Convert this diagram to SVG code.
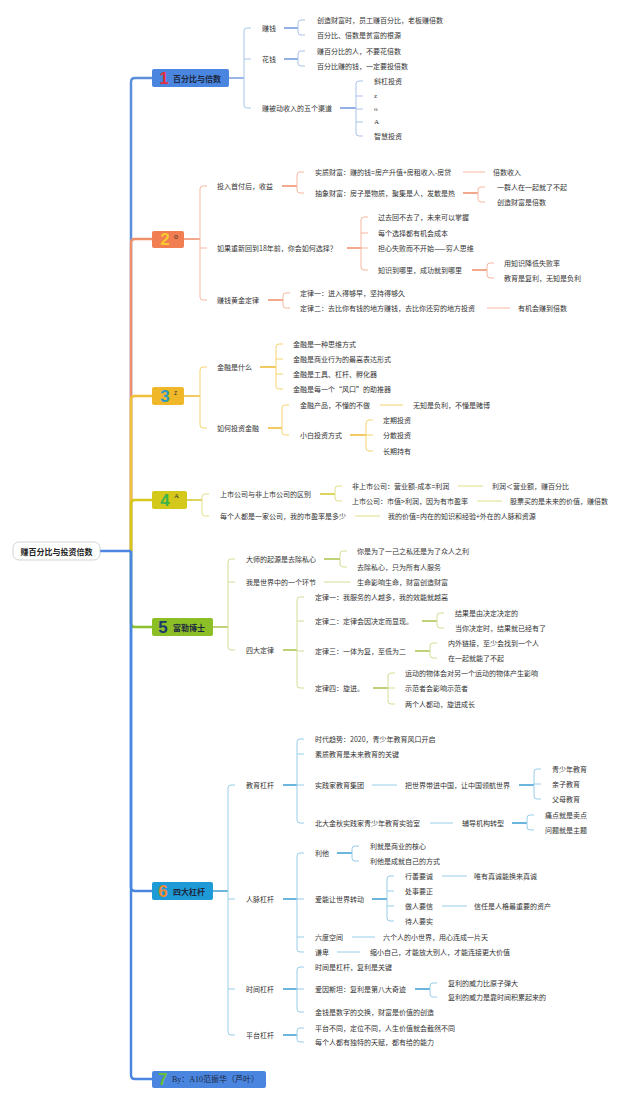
<svg xmlns="http://www.w3.org/2000/svg" width="640" height="1101" viewBox="0 0 640 1101">
<style>
text{font-family:"Noto Sans CJK SC","Liberation Sans",sans-serif;dominant-baseline:central}
.t{font-size:7px;fill:#333}
.s{font-family:"Liberation Serif","Noto Sans CJK SC",serif}
.lb{font-size:8px;font-weight:bold;fill:#1d2940}
.num{font-family:"Liberation Sans","Noto Sans CJK SC",sans-serif;font-size:17px;font-weight:bold;text-anchor:middle}
.sup{font-size:6.5px;fill:#333}
.tr{fill:none;stroke-width:2.5;stroke-linejoin:round}
.c{fill:none;stroke-width:1}
.m{stroke-width:1.4}
.c1{stroke:#a9c2ea}.c1.m{stroke:#6f97d8}
.c2{stroke:#f6b7a0}.c2.m{stroke:#ef8d6a}
.c3{stroke:#f6d470}.c3.m{stroke:#f0b830}
.c4{stroke:#e2de88}.c4.m{stroke:#d0c82a}
.c5{stroke:#d2de96}.c5.m{stroke:#a8c44a}
.c6{stroke:#96cde8}.c6.m{stroke:#3a9fd4}
</style>
<rect width="640" height="1101" fill="#ffffff"/>
<g id="connectors">
<g id="trunk">
<path class="tr" stroke="#5b8fd9" d="M131,551 V82 Q131,78 135,78 H152"/>
<path class="tr" stroke="#f0906a" d="M131,551 V243 Q131,239 135,239 H152"/>
<path class="tr" stroke="#f0c038" d="M131,551 V400 Q131,396 135,396 H152"/>
<path class="tr" stroke="#d6c81a" d="M131,551 V504 Q131,500 135,500 H152"/>
<path class="tr" stroke="#8cc030" d="M131,551 V623 Q131,627 135,627 H152"/>
<path class="tr" stroke="#4a86e0" d="M131,551 V887 Q131,891 135,891 H152"/>
<path class="tr" stroke="#4a86e0" d="M131,551 V1075 Q131,1079 135,1079 H152"/>
<path class="tr" stroke="#4a86e0" d="M100,551 H131"/>
</g>
<g id="conn1">
<path class="c c1 m" d="M229,78 H244"/>
<path class="c c1" d="M251,28 H247 Q244,28 244,31 V105 Q244,108 247,108 H251 M244,59 H251"/>
<path class="c c1 m" d="M284,28 H298 M284,59 H298 M340,108 H356"/>
<path class="c c1" d="M305,20 H301 Q298,20 298,23 V32 Q298,35 301,35 H305"/>
<path class="c c1" d="M305,51 H301 Q298,51 298,54 V63 Q298,66 301,66 H305"/>
<path class="c c1" d="M363,81 H359 Q356,81 356,84 V133 Q356,136 359,136 H363 M356,96 H363 M356,109 H363 M356,122 H363"/>
</g>
<g id="conn2">
<path class="c c2 m" d="M184,239 H200 M282,186 H297 M463,193 H478 M347,248 H361 M472,270 H487 M268,300 H283"/>
<path class="c c2" d="M207,186 H203 Q200,186 200,189 V297 Q200,300 203,300 H207 M200,248 H207"/>
<path class="c c2" d="M304,172 H300 Q297,172 297,175 V190 Q297,193 300,193 H304"/>
<path class="c c2" d="M463,172 H485 M487,308 H510"/>
<path class="c c2" d="M485,187 H481 Q478,187 478,190 V199 Q478,202 481,202 H485"/>
<path class="c c2" d="M368,217 H364 Q361,217 361,220 V267 Q361,270 364,270 H368 M361,233 H368 M361,248 H368"/>
<path class="c c2" d="M494,263 H490 Q487,263 487,266 V275 Q487,278 490,278 H494"/>
<path class="c c2" d="M290,293 H286 Q283,293 283,296 V305 Q283,308 286,308 H290"/>
</g>
<g id="conn3">
<path class="c c3 m" d="M184,396 H200 M260,367 H276 M268,428 H282 M350,435 H366"/>
<path class="c c3" d="M207,367 H203 Q200,367 200,370 V425 Q200,428 203,428 H207"/>
<path class="c c3" d="M283,344 H279 Q276,344 276,347 V386 Q276,389 279,389 H283 M276,359 H283 M276,374 H283"/>
<path class="c c3" d="M289,405 H285 Q282,405 282,408 V432 Q282,435 285,435 H289"/>
<path class="c c3" d="M380,405 H403"/>
<path class="c c3" d="M373,420 H369 Q366,420 366,423 V448 Q366,451 369,451 H373 M366,435 H373"/>
</g>
<g id="conn4">
<path class="c c4 m" d="M187,500 H202 M320,494 H335"/>
<path class="c c4" d="M209,494 H205 Q202,494 202,497 V513 Q202,516 205,516 H209"/>
<path class="c c4" d="M342,486 H338 Q335,486 335,489 V498 Q335,501 338,501 H342"/>
<path class="c c4" d="M458,486 H483 M477,501 H502 M355,516 H380"/>
</g>
<g id="conn5">
<path class="c c5 m" d="M213,627 H228 M324,559 H340 M283,650 H297 M422,621 H437 M415,651 H430 M373,688 H388"/>
<path class="c c5" d="M235,559 H231 Q228,559 228,562 V647 Q228,650 231,650 H235 M228,582 H235"/>
<path class="c c5" d="M347,551 H343 Q340,551 340,554 V564 Q340,567 343,567 H347"/>
<path class="c c5" d="M324,582 H350"/>
<path class="c c5" d="M304,597 H300 Q297,597 297,600 V685 Q297,688 300,688 H304 M297,621 H304 M297,651 H304"/>
<path class="c c5" d="M444,613 H440 Q437,613 437,616 V625 Q437,628 440,628 H444"/>
<path class="c c5" d="M437,643 H433 Q430,643 430,646 V655 Q430,658 433,658 H437"/>
<path class="c c5" d="M395,673 H391 Q388,673 388,676 V701 Q388,704 391,704 H395 M388,688 H395"/>
</g>
<g id="conn6">
<path class="c c6 m" d="M213,891 H228 M283,785 H297 M519,785 H534 M512,823 H527 M283,899 H297 M337,853 H352 M372,899 H387 M283,989 H297 M415,989 H430 M283,1035 H297"/>
<path class="c c6" d="M235,785 H231 Q228,785 228,788 V1032 Q228,1035 231,1035 H235 M228,899 H235 M228,989 H235"/>
<path class="c c6" d="M304,739 H300 Q297,739 297,742 V820 Q297,823 300,823 H304 M297,754 H304 M297,785 H304"/>
<path class="c c6" d="M372,785 H397 M430,823 H453"/>
<path class="c c6" d="M541,769 H537 Q534,769 534,772 V796 Q534,799 537,799 H541 M534,784 H541"/>
<path class="c c6" d="M534,815 H530 Q527,815 527,818 V827 Q527,830 530,830 H534"/>
<path class="c c6" d="M304,853 H300 Q297,853 297,856 V949 Q297,952 300,952 H304 M297,899 H304 M297,937 H304"/>
<path class="c c6" d="M359,846 H355 Q352,846 352,849 V858 Q352,861 355,861 H359"/>
<path class="c c6" d="M394,876 H390 Q387,876 387,879 V918 Q387,921 390,921 H394 M387,891 H394 M387,906 H394"/>
<path class="c c6" d="M442,876 H467 M442,906 H467 M352,937 H375 M337,952 H360"/>
<path class="c c6" d="M304,967 H300 Q297,967 297,970 V1009 Q297,1012 300,1012 H304 M297,989 H304"/>
<path class="c c6" d="M437,983 H433 Q430,983 430,986 V994 Q430,997 433,997 H437"/>
<path class="c c6" d="M304,1028 H300 Q297,1028 297,1031 V1039 Q297,1042 300,1042 H304"/>
</g>
</g>

<g id="root">
<rect x="13" y="542" width="87" height="18" rx="6" fill="#fff" stroke="#c8c8c8" stroke-width="0.8"/>
<text x="56.5" y="551" text-anchor="middle" style="font-size:8px;font-weight:bold;fill:#222">赚百分比与投资倍数</text>
</g>

<g id="topic1">
<rect x="152" y="69" width="77" height="18" rx="2" fill="#4a86e0"/>
<text class="num" x="164" y="78" fill="#e0303e">1</text>
<text class="lb" x="173" y="78">百分比与倍数</text>
</g>
<g id="topic2">
<rect x="152" y="231" width="32" height="17" rx="2" fill="#f07e50"/>
<text class="num" x="165" y="239.5" fill="#f8c830">2</text>
<text class="sup" x="174" y="236">o</text>
</g>
<g id="topic3">
<rect x="152" y="387" width="32" height="18" rx="2" fill="#f0b828"/>
<text class="num" x="165" y="396" fill="#2a9ac0">3</text>
<text class="sup" x="174" y="392">z</text>
</g>
<g id="topic4">
<rect x="152" y="491" width="35" height="18" rx="2" fill="#d4c81a"/>
<text class="num" x="165" y="500" fill="#3cb34a">4</text>
<text class="sup s" x="174" y="495.5" style="font-size:7px">A</text>
</g>
<g id="topic5">
<rect x="152" y="618" width="61" height="18" rx="2" fill="#8cbf26"/>
<text class="num" x="163" y="627" fill="#1c3a6e">5</text>
<text class="lb" x="173" y="627">富勒博士</text>
</g>
<g id="topic6">
<rect x="152" y="882" width="61" height="18" rx="2" fill="#1e9ad6"/>
<text class="num" x="163" y="891" fill="#f08a30">6</text>
<text class="lb" x="173" y="891">四大杠杆</text>
</g>
<g id="topic7">
<rect x="152" y="1071" width="114" height="17" rx="2" fill="#4a86e0"/>
<text class="num" x="163" y="1079.5" fill="#6abf3a">7</text>
<text class="lb s" x="172" y="1079.5" style="font-weight:normal;font-size:8px">By：A10范振华（芦叶）</text>
</g>

<g id="sec1" class="t">
<g id="n1a"><text class="t" x="262" y="28">赚钱</text></g>
<g id="n1a1"><text class="t" x="317" y="20">创造财富时，员工赚百分比，老板赚倍数</text></g>
<g id="n1a2"><text class="t" x="317" y="35">百分比、倍数是贫富的根源</text></g>
<g id="n1b"><text class="t" x="262" y="59">花钱</text></g>
<g id="n1b1"><text class="t" x="317" y="51">赚百分比的人，不要花倍数</text></g>
<g id="n1b2"><text class="t" x="317" y="66">百分比赚的钱，一定要投倍数</text></g>
<g id="n1c"><text class="t" x="262" y="108">赚被动收入的五个渠道</text></g>
<g id="n1c1"><text class="t" x="374" y="81">斜杠投资</text></g>
<g id="n1c2"><text class="t s" x="374" y="96">z</text></g>
<g id="n1c3"><text class="t s" x="374" y="109">o</text></g>
<g id="n1c4"><text class="t s" x="374" y="122">A</text></g>
<g id="n1c5"><text class="t" x="374" y="136">智慧投资</text></g>
</g>

<g id="sec2">
<g id="n2a"><text class="t" x="217" y="186">投入首付后，收益</text></g>
<g id="n2a1"><text class="t" x="315" y="172">实质财富：赚的钱=房产升值+房租收入-房贷</text></g>
<g id="n2a1a"><text class="t" x="493" y="172">倍数收入</text></g>
<g id="n2a2"><text class="t" x="315" y="193">抽象财富：房子是物质，聚集是人，发散是热</text></g>
<g id="n2a2a"><text class="t" x="497" y="187">一群人在一起就了不起</text></g>
<g id="n2a2b"><text class="t" x="497" y="202">创造财富是倍数</text></g>
<g id="n2b"><text class="t" x="217" y="248">如果重新回到18年前，你会如何选择？</text></g>
<g id="n2b1"><text class="t" x="378" y="217">过去回不去了，未来可以掌握</text></g>
<g id="n2b2"><text class="t" x="378" y="233">每个选择都有机会成本</text></g>
<g id="n2b3"><text class="t" x="378" y="248">担心失败而不开始——穷人思维</text></g>
<g id="n2b4"><text class="t" x="378" y="270">知识到哪里，成功就到哪里</text></g>
<g id="n2b4a"><text class="t" x="504" y="263">用知识降低失败率</text></g>
<g id="n2b4b"><text class="t" x="504" y="278">教育是复利，无知是负利</text></g>
<g id="n2c"><text class="t" x="217" y="300">赚钱黄金定律</text></g>
<g id="n2c1"><text class="t" x="300" y="293">定律一：进入得够早，坚持得够久</text></g>
<g id="n2c2"><text class="t" x="300" y="308">定律二：去比你有钱的地方赚钱，去比你还穷的地方投资</text></g>
<g id="n2c2a"><text class="t" x="518" y="308">有机会赚到倍数</text></g>
</g>

<g id="sec3">
<g id="n3a"><text class="t" x="217" y="367">金融是什么</text></g>
<g id="n3a1"><text class="t" x="293" y="344">金融是一种思维方式</text></g>
<g id="n3a2"><text class="t" x="293" y="359">金融是商业行为的最高表达形式</text></g>
<g id="n3a3"><text class="t" x="293" y="374">金融是工具、杠杆、孵化器</text></g>
<g id="n3a4"><text class="t" x="293" y="389">金融是每一个“风口”的助推器</text></g>
<g id="n3b"><text class="t" x="217" y="428">如何投资金融</text></g>
<g id="n3b1"><text class="t" x="300" y="405">金融产品，不懂的不做</text></g>
<g id="n3b1a"><text class="t" x="413" y="405">无知是负利，不懂是赌博</text></g>
<g id="n3b2"><text class="t" x="300" y="435">小白投资方式</text></g>
<g id="n3b2a"><text class="t" x="383" y="420">定期投资</text></g>
<g id="n3b2b"><text class="t" x="383" y="435">分散投资</text></g>
<g id="n3b2c"><text class="t" x="383" y="451">长期持有</text></g>
</g>

<g id="sec4">
<g id="n4a"><text class="t" x="220" y="494">上市公司与非上市公司的区别</text></g>
<g id="n4a1"><text class="t" x="352" y="486">非上市公司：营业额-成本=利润</text></g>
<g id="n4a1a"><text class="t" x="492" y="486">利润＜营业额，赚百分比</text></g>
<g id="n4a2"><text class="t" x="352" y="501">上市公司：市值&gt;利润，因为有市盈率</text></g>
<g id="n4a2a"><text class="t" x="510" y="501">股票买的是未来的价值，赚倍数</text></g>
<g id="n4b"><text class="t" x="220" y="516">每个人都是一家公司，我的市盈率是多少</text></g>
<g id="n4b1"><text class="t" x="388" y="516">我的价值=内在的知识和经验+外在的人脉和资源</text></g>
</g>

<g id="sec5">
<g id="n5a"><text class="t" x="246" y="559">大师的起源是去除私心</text></g>
<g id="n5a1"><text class="t" x="357" y="551">你是为了一己之私还是为了众人之利</text></g>
<g id="n5a2"><text class="t" x="357" y="567">去除私心，只为所有人服务</text></g>
<g id="n5b"><text class="t" x="246" y="582">我是世界中的一个环节</text></g>
<g id="n5b1"><text class="t" x="357" y="582">生命影响生命，财富创造财富</text></g>
<g id="n5c"><text class="t" x="246" y="650">四大定律</text></g>
<g id="n5c1"><text class="t" x="315" y="597">定律一：我服务的人越多，我的效能就越高</text></g>
<g id="n5c2"><text class="t" x="315" y="621">定律二：定律会因决定而显现。</text></g>
<g id="n5c2a"><text class="t" x="455" y="613">结果是由决定决定的</text></g>
<g id="n5c2b"><text class="t" x="455" y="628">当你决定时，结果就已经有了</text></g>
<g id="n5c3"><text class="t" x="315" y="651">定律三：一体为复，至低为二</text></g>
<g id="n5c3a"><text class="t" x="448" y="643">内外链接，至少会找到一个人</text></g>
<g id="n5c3b"><text class="t" x="448" y="658">在一起就能了不起</text></g>
<g id="n5c4"><text class="t" x="315" y="688">定律四：旋进。</text></g>
<g id="n5c4a"><text class="t" x="405" y="673">运动的物体会对另一个运动的物体产生影响</text></g>
<g id="n5c4b"><text class="t" x="405" y="688">示范者会影响示范者</text></g>
<g id="n5c4c"><text class="t" x="405" y="704">两个人都动，旋进成长</text></g>
</g>

<g id="sec6">
<g id="n6a"><text class="t" x="246" y="785">教育杠杆</text></g>
<g id="n6a1"><text class="t" x="315" y="739">时代趋势：2020，青少年教育风口开启</text></g>
<g id="n6a2"><text class="t" x="315" y="754">素质教育是未来教育的关键</text></g>
<g id="n6a3"><text class="t" x="315" y="785">实践家教育集团</text></g>
<g id="n6a3a"><text class="t" x="405" y="785">把世界带进中国，让中国领航世界</text></g>
<g id="n6a3a1"><text class="t" x="552" y="769">青少年教育</text></g>
<g id="n6a3a2"><text class="t" x="552" y="784">亲子教育</text></g>
<g id="n6a3a3"><text class="t" x="552" y="799">父母教育</text></g>
<g id="n6a4"><text class="t" x="315" y="823">北大金秋实践家青少年教育实验室</text></g>
<g id="n6a4a"><text class="t" x="462" y="823">辅导机构转型</text></g>
<g id="n6a4a1"><text class="t" x="545" y="815">痛点就是卖点</text></g>
<g id="n6a4a2"><text class="t" x="545" y="830">问题就是主题</text></g>
<g id="n6b"><text class="t" x="246" y="899">人脉杠杆</text></g>
<g id="n6b1"><text class="t" x="315" y="853">利他</text></g>
<g id="n6b1a"><text class="t" x="370" y="846">利就是商业的核心</text></g>
<g id="n6b1b"><text class="t" x="370" y="861">利他是成就自己的方式</text></g>
<g id="n6b2"><text class="t" x="315" y="899">爱能让世界转动</text></g>
<g id="n6b2a"><text class="t" x="405" y="876">行善要诚</text></g>
<g id="n6b2a1"><text class="t" x="474" y="876">唯有真诚能换来真诚</text></g>
<g id="n6b2b"><text class="t" x="405" y="891">处事要正</text></g>
<g id="n6b2c"><text class="t" x="405" y="906">做人要信</text></g>
<g id="n6b2c1"><text class="t" x="474" y="906">信任是人格最重要的资产</text></g>
<g id="n6b2d"><text class="t" x="405" y="921">待人要实</text></g>
<g id="n6b3"><text class="t" x="315" y="937">六度空间</text></g>
<g id="n6b3a"><text class="t" x="383" y="937">六个人的小世界，用心连成一片天</text></g>
<g id="n6b4"><text class="t" x="315" y="952">谦卑</text></g>
<g id="n6b4a"><text class="t" x="370" y="952">缩小自己，才能放大别人，才能连接更大价值</text></g>
<g id="n6c"><text class="t" x="246" y="989">时间杠杆</text></g>
<g id="n6c1"><text class="t" x="315" y="967">时间是杠杆，复利是关键</text></g>
<g id="n6c2"><text class="t" x="315" y="989">爱因斯坦：复利是第八大奇迹</text></g>
<g id="n6c2a"><text class="t" x="448" y="983">复利的威力比原子弹大</text></g>
<g id="n6c2b"><text class="t" x="448" y="997">复利的威力是靠时间积累起来的</text></g>
<g id="n6c3"><text class="t" x="315" y="1012">金钱是数字的交换，财富是价值的创造</text></g>
<g id="n6d"><text class="t" x="246" y="1035">平台杠杆</text></g>
<g id="n6d1"><text class="t" x="315" y="1028">平台不同，定位不同，人生价值就会截然不同</text></g>
<g id="n6d2"><text class="t" x="315" y="1042">每个人都有独特的天赋，都有给的能力</text></g>
</g>
</svg>
